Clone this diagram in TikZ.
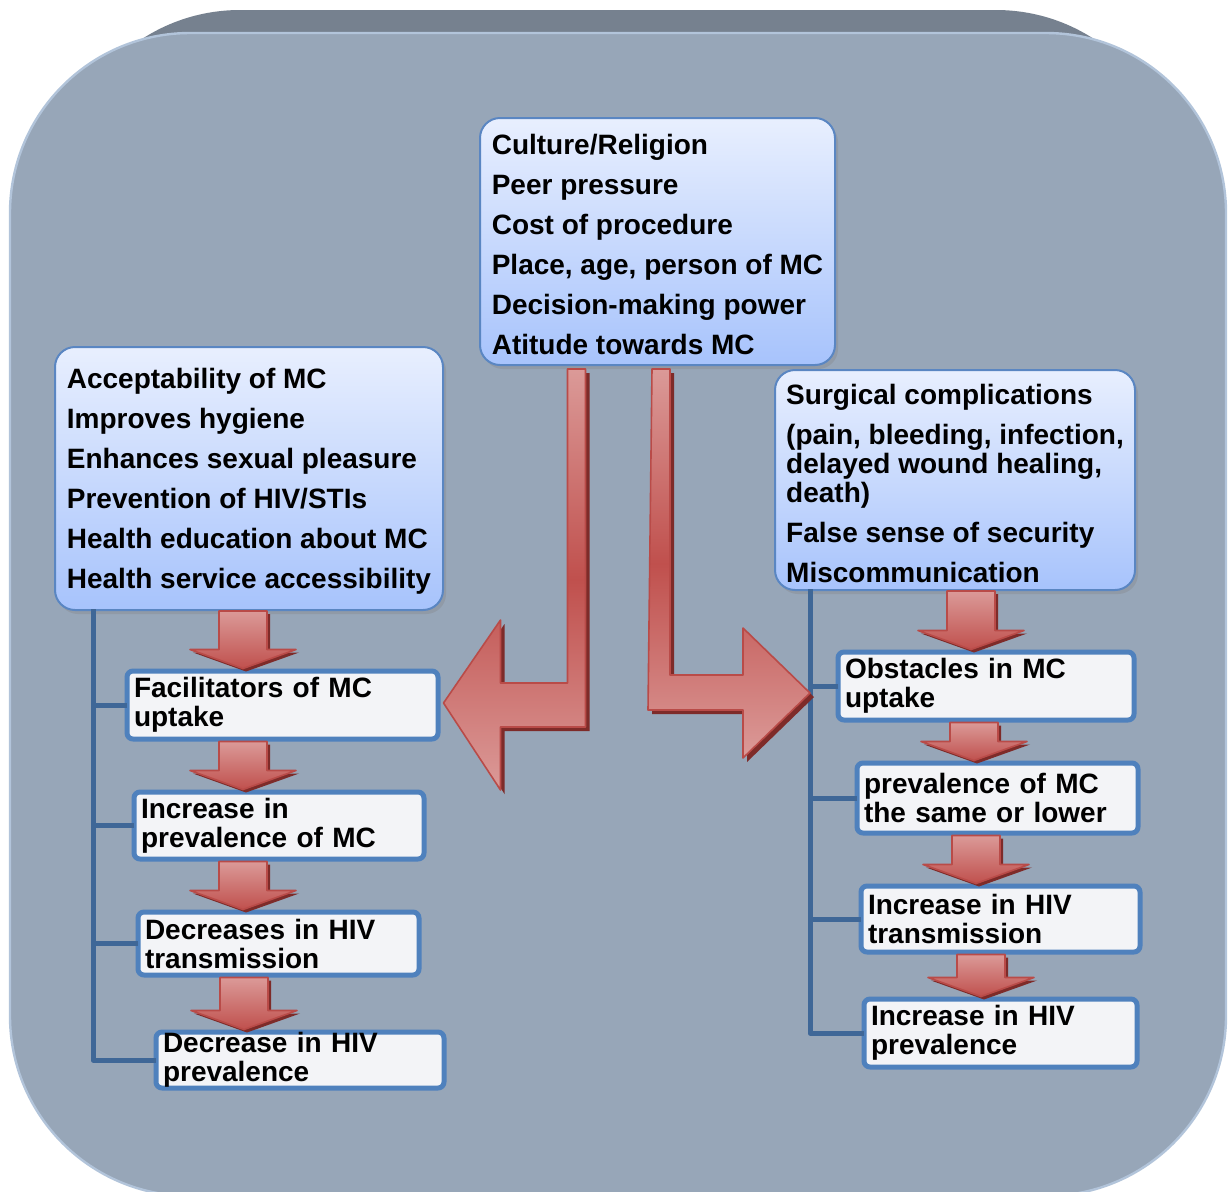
\documentclass[tikz,border=0pt]{standalone}
\usepackage{fontspec}
\setmainfont{Liberation Sans}
\usetikzlibrary{calc,shadows}
\definecolor{facegray}{HTML}{97A6B8}
\definecolor{backgray}{HTML}{76818F}
\definecolor{rimblue}{HTML}{B2C4DA}
\definecolor{boxtop}{HTML}{E8EFFE}
\definecolor{boxbottom}{HTML}{A7C3FC}
\definecolor{boxline}{HTML}{5A86C2}
\definecolor{cardfill}{HTML}{F3F4F7}
\definecolor{cardline}{HTML}{4F81BD}
\definecolor{spineblue}{HTML}{3F6797}
\definecolor{arrowlight}{HTML}{DB9A98}
\definecolor{arrowdark}{HTML}{C0504D}
\definecolor{arrowline}{HTML}{B94B48}
\definecolor{arrowshade}{HTML}{7E2B29}
% block arrow between two stacked boxes: #1 x of column, #2 upper box, #3 lower box
\newcommand{\downshape}{($(top)+(-24,0)$) -- ($(top)+(24,0)$) -- ($(tip)+(24,-19)$) -- ($(tip)+(53,-19)$) -- (tip) -- ($(tip)+(-53,-19)$) -- ($(tip)+(-24,-19)$) -- cycle}
\newcommand{\blockdown}[3]{%
  \path (#2.south -| #1,0) coordinate (top) (#3.north -| #1,0) coordinate (tip);
  \fill[arrowshade,transform canvas={shift={(1.5pt,-1.5pt)}}] \downshape;
  \path[blockarrow] \downshape;
}
\newcommand{\leftbent}{(ltip) -- ++(57,-83) -- ++(0,63) -- ++(67,0) -- ++(0,-314) -- ++(18,0) -- ++(0,358) -- ++(-85,0) -- ++(0,63) -- cycle}
\newcommand{\rightbent}{(rtip) -- ++(-67,-65) -- ++(0,47) -- ++(-73,0) -- ++(0,-306) -- ++(-18,0) -- ++(-4,341) -- ++(95,0) -- ++(0,48) -- cycle}
\newcommand{\firstline}{\rule{0pt}{13.3pt}}

\begin{document}
\begin{tikzpicture}[line cap=round,line join=round,x=0.5pt,y=-0.5pt,
    cause/.style={draw=boxline,line width=1pt,rounded corners=10pt,top color=boxtop,bottom color=boxbottom,
      align=left,inner xsep=5pt,inner ysep=0pt,font=\fontsize{14}{20}\selectfont\bfseries,
      drop shadow={shadow xshift=1.5pt,shadow yshift=-2pt,opacity=.3}},
    effect/.style={draw=cardline,line width=2.5pt,fill=cardfill,rounded corners=3pt,align=left,
      inner xsep=3.5pt,inner ysep=0pt,text width=#1,font=\fontsize{14}{14.5}\selectfont\bfseries},
    spine/.style={draw=spineblue,line width=2.5pt,line cap=rect},
    blockarrow/.style={draw=arrowline,line width=0.8pt,top color=arrowlight,bottom color=arrowdark},
    bentarrow/.style={draw=arrowline,line width=0.8pt,top color=arrowlight,bottom color=arrowlight,middle color=arrowdark}]
  \useasboundingbox (0,0) rectangle (1228,1191);
  % backdrop
  \fill[backgray,rounded corners=90pt] (60,10) rectangle (1176,600);
  \filldraw[fill=facegray,draw=rimblue,line width=1.2pt,rounded corners=90pt] (10,33) rectangle (1226,1196);

  % factor boxes
  \node[cause,minimum width=177.5pt,minimum height=123.5pt] (T) at (657.5,241.5)
    {\firstline Culture/Religion\\ Peer pressure\\ Cost of procedure\\ Place, age, person of MC\\ Decision-making power\\ Atitude towards MC};
  \node[cause,minimum width=194pt,minimum height=131.5pt] (L) at (249,478.5)
    {\firstline Acceptability of MC\\ Improves hygiene\\ Enhances sexual pleasure\\ Prevention of HIV/STIs\\ Health education about MC\\ Health service accessibility};
  \node[cause,minimum width=180pt,minimum height=110pt] (R) at (955,480)
    {\firstline Surgical complications\\ (pain, bleeding, infection,\\[-5.5pt] delayed wound healing,\\[-5.5pt] death)\\ False sense of security\\ Miscommunication};

  % outcome boxes
  \node[effect=148.5pt,minimum height=34pt] (l1) at (282.5,705) {Facilitators of MC\\ uptake};
  \node[effect=138pt,minimum height=33.5pt] (l2) at (279,825.5) {Increase in\\ prevalence of MC};
  \node[effect=133.5pt,minimum height=31.5pt] (l3) at (278.5,943.5) {Decreases in HIV\\ transmission};
  \node[effect=137pt,minimum height=28pt] (l4) at (300,1060) {Decrease in HIV\\ prevalence};
  \node[effect=141pt,minimum height=34pt] (r1) at (986,686) {Obstacles in MC\\ uptake};
  \node[effect=133.5pt,minimum height=35pt] (r2) at (997.5,798) {prevalence of MC\\ the same or lower};
  \node[effect=132.5pt,minimum height=33pt] (r3) at (1000.5,919) {Increase in HIV\\ transmission};
  \node[effect=129.5pt,minimum height=34pt] (r4) at (1000.5,1033) {Increase in HIV\\ prevalence};

  % brackets
  \coordinate (lspine) at (93,611);
  \coordinate (rspine) at (810,591);
  \draw[spine] (lspine) |- (l4.west);
  \draw[spine] (rspine) |- (r4.west);
  \foreach \n in {l1,l2,l3} \draw[spine] (lspine |- \n.west) -- (\n.west);
  \foreach \n in {r1,r2,r3} \draw[spine] (rspine |- \n.west) -- (\n.west);

  % bent arrows from the central box
  \coordinate (ltip) at ($(l1.east)+(3,-2)$);
  \coordinate (rtip) at ($(rspine |- r1.west)+(0,7)$);
  \fill[arrowshade,transform canvas={shift={(2pt,-2pt)}}] \leftbent;
  \path[bentarrow] \leftbent;
  \fill[arrowshade,transform canvas={shift={(2pt,-2pt)}}] \rightbent;
  \path[bentarrow] \rightbent;

  % block arrows down each column
  \blockdown{243}{L}{l1}
  \blockdown{243}{l1}{l2}
  \blockdown{243}{l2}{l3}
  \blockdown{244}{l3}{l4}
  \blockdown{971}{R}{r1}
  \blockdown{974}{r1}{r2}
  \blockdown{976}{r2}{r3}
  \blockdown{981}{r3}{r4}
\end{tikzpicture}
\end{document}
